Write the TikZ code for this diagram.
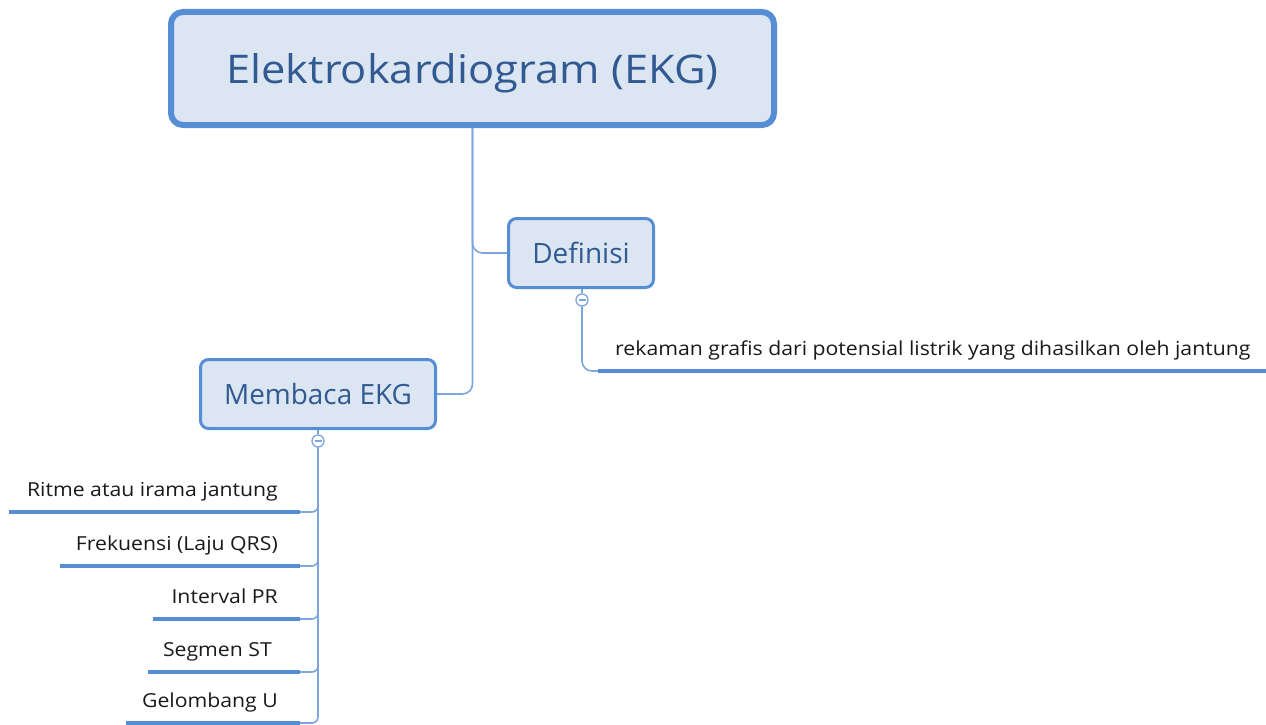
\documentclass[tikz,border=0pt]{standalone}
\usepackage{fontspec}
\setmainfont{Open Sans}
\newfontfamily\widefont[FakeStretch=1.1]{Open Sans}
\definecolor{edge}{RGB}{85,142,213}
\definecolor{wire}{RGB}{125,165,222}
\definecolor{boxfill}{RGB}{220,230,242}
\definecolor{title}{RGB}{48,90,145}
\definecolor{leaftext}{RGB}{25,25,25}
\tikzset{
  topic/.style={draw=edge, fill=boxfill, rounded corners=8pt, text=title, inner sep=0pt},
  conn/.style={draw=wire, line width=1.6pt, rounded corners=10pt},
  fold/.style={circle, draw=wire, fill=white, line width=1.3pt, minimum size=12pt, inner sep=0pt},
  leaf/.style={text=leaftext, font=\widefont\fontsize{19.3}{22}\selectfont, inner ysep=0pt,
    text height=14pt, text depth=15.5pt},
  uline/.style={draw=edge, line width=4pt},
}
\begin{document}
\begin{tikzpicture}[x=1pt,y=-1pt]
\useasboundingbox (0,0) rectangle (1266,725);

% central topic
\node[topic, line width=6pt, rounded corners=12pt, minimum width=603pt, minimum height=113pt,
  text height=37pt, text depth=8pt,
  font=\widefont\fontsize{39.5}{44}\selectfont] (main) at (472.5,68.5) {Elektrokardiogram (EKG)};

% main branches
\node[topic, line width=3pt, minimum width=145pt, minimum height=69pt,
  text height=27pt, text depth=7pt,
  font=\fontsize{28}{31}\selectfont] (def) at (581,253) {Definisi};
\node[topic, line width=3pt, minimum width=235pt, minimum height=69pt,
  text height=27pt, text depth=7pt,
  font=\fontsize{27.9}{31}\selectfont] (memb) at (318,394) {Membaca EKG};

\draw[conn] (main.south) |- (def.west);
\draw[conn] (main.south) |- (memb.east);

% definition subtopic
\node[fold] (dfold) at (582,300) {};
\draw[wire, line width=1.3pt] (dfold.center) ++(-3.5,0) -- ++(7,0);
\node[leaf, anchor=south west, inner xsep=17pt] (dleaf) at (598,371)
  {rekaman grafis dari potensial listrik yang dihasilkan oleh jantung};
\draw[conn] (def.south -| dfold) -- (dfold.north);
\draw[conn] (dfold.south) |- (dleaf.south west);
\draw[uline] (dleaf.south west) -- (1266,371);

% reading subtopics
\node[fold] (mfold) at (318,441) {};
\draw[wire, line width=1.3pt] (mfold.center) ++(-3.5,0) -- ++(7,0);
\draw[conn] (memb.south) -- (mfold.north);

\tikzset{lleaf/.style={leaf, anchor=south east, inner xsep=0pt}}
\node[lleaf] (l1) at (278,512) {Ritme atau irama jantung};
\node[lleaf] (l2) at (278,566) {Frekuensi (Laju QRS)};
\node[lleaf] (l3) at (278,619) {Interval PR};
\node[lleaf] (l4) at (272,672) {Segmen ST};
\node[lleaf] (l5) at (278,723) {Gelombang U};

\coordinate (e1) at (300,512);
\coordinate (e2) at (300,566);
\coordinate (e3) at (300,619);
\coordinate (e4) at (300,672);
\coordinate (e5) at (300,723);

\draw[uline] (9,512) -- (e1);
\draw[uline] (60,566) -- (e2);
\draw[uline] (153,619) -- (e3);
\draw[uline] (148,672) -- (e4);
\draw[uline] (126,723) -- (e5);

\foreach \e in {e1,e2,e3,e4,e5}
  \draw[conn, rounded corners=6pt] (mfold.south) |- (\e);
\end{tikzpicture}
\end{document}
